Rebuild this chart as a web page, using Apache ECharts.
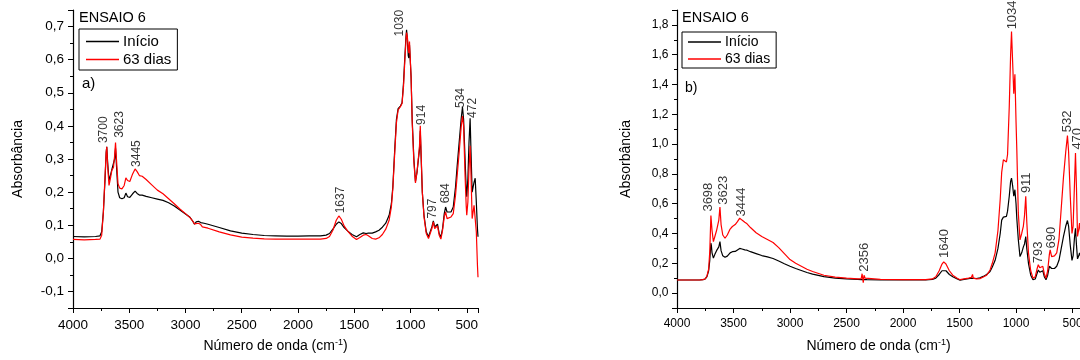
<!DOCTYPE html>
<html>
<head>
<meta charset="utf-8">
<script src="https://cdn.jsdelivr.net/npm/echarts@6/dist/echarts.min.js"></script>
<style>html,body{margin:0;padding:0;background:#fff}#c{width:1080px;height:360px}</style>
</head>
<body>
<div id="c"></div>
<script>
// ---------- Panel a) ----------
const leftWn = [4000,3900,3800,3760,3745,3730,3715,3705,3700,3692,3680,3668,3655,3640,3630,3622,3612,3600,3585,3565,3545,3530,3515,3495,3470,3448,3430,3410,3385,3350,3300,3250,3200,3150,3100,3050,3000,2960,2935,2920,2905,2885,2865,2850,2835,2800,2700,2600,2500,2400,2300,2200,2100,2000,1900,1800,1750,1720,1690,1660,1637,1615,1590,1560,1520,1480,1450,1420,1395,1385,1375,1340,1310,1280,1250,1220,1190,1170,1157,1140,1125,1110,1090,1075,1062,1050,1040,1035,1027,1020,1015,1009,1004,995,985,970,956,942,928,920,913,905,895,880,860,840,825,810,797,785,775,760,745,730,715,700,688,675,660,640,620,600,585,565,550,538,528,515,505,500,490,480,470,462,452,444,435,425,415,405,400];
const leftInicio = [.066,.065,.066,.068,.08,.14,.24,.32,.337,.29,.235,.25,.268,.272,.30,.332,.27,.20,.183,.18,.183,.197,.186,.184,.195,.203,.196,.191,.191,.187,.183,.179,.175,.168,.158,.146,.134,.124,.112,.103,.11,.112,.108,.103,.106,.103,.093,.083,.076,.072,.069,.068,.067,.067,.068,.068,.07,.075,.088,.103,.11,.105,.093,.083,.072,.065,.072,.077,.075,.075,.076,.076,.08,.085,.094,.106,.13,.165,.216,.33,.42,.452,.46,.47,.53,.61,.67,.69,.66,.612,.605,.645,.65,.55,.42,.30,.232,.26,.305,.33,.385,.30,.20,.13,.08,.065,.07,.095,.113,.095,.10,.103,.075,.064,.09,.135,.155,.14,.135,.14,.155,.215,.28,.36,.42,.457,.42,.30,.21,.186,.24,.35,.423,.32,.20,.196,.23,.242,.17,.09,.065];
const left63 = [.057,.056,.057,.058,.07,.14,.25,.32,.337,.28,.22,.24,.265,.275,.31,.35,.29,.225,.212,.21,.22,.243,.235,.232,.255,.27,.262,.25,.248,.238,.222,.206,.195,.18,.165,.149,.135,.123,.112,.104,.108,.106,.102,.095,.094,.091,.08,.071,.064,.061,.059,.058,.058,.058,.058,.058,.06,.066,.085,.115,.128,.118,.098,.083,.067,.057,.063,.07,.072,.078,.068,.06,.058,.062,.072,.088,.115,.155,.21,.32,.41,.448,.458,.468,.52,.60,.66,.682,.665,.63,.62,.655,.652,.55,.41,.29,.228,.262,.31,.34,.40,.31,.20,.125,.075,.06,.064,.09,.11,.09,.095,.098,.07,.058,.085,.125,.14,.12,.115,.125,.135,.19,.25,.33,.395,.43,.40,.25,.16,.13,.17,.27,.34,.25,.12,.115,.16,.166,.08,-.02,-.057];
const leftPeakText = ['3700','3623','3445','1637','1030','914','797','684','534','472'];
const leftPeakWn   = [3725,3582,3434,1624,1095,902,802,689,553,451];
const leftPeakY    = [.348,.364,.276,.136,.67,.403,.12,.166,.454,.424];

// ---------- Panel b) ----------
const rightWn = [4000,3900,3800,3770,3750,3735,3720,3710,3700,3696,3690,3678,3665,3650,3640,3630,3620,3610,3595,3575,3555,3530,3510,3485,3465,3445,3425,3400,3380,3350,3300,3250,3200,3150,3100,3050,3000,2950,2900,2850,2800,2700,2600,2500,2400,2370,2362,2352,2345,2335,2320,2200,2000,1800,1740,1710,1680,1655,1640,1620,1590,1560,1520,1495,1460,1420,1395,1385,1378,1350,1320,1290,1260,1230,1210,1185,1160,1140,1127,1112,1098,1085,1075,1060,1048,1040,1030,1020,1010,1000,993,980,965,950,935,925,914,905,890,870,850,830,815,803,790,775,763,750,735,720,705,698,685,675,660,640,620,600,580,560,545,535,520,505,495,482,474,465,456,445,438,425,410,400];
const rightInicio = [.088,.088,.088,.09,.095,.11,.15,.22,.335,.32,.27,.235,.26,.285,.29,.31,.345,.285,.25,.24,.248,.27,.278,.28,.29,.30,.296,.29,.288,.278,.265,.252,.243,.232,.215,.197,.18,.165,.152,.138,.127,.11,.10,.095,.092,.091,.091,.091,.091,.091,.09,.089,.088,.088,.092,.10,.125,.15,.16,.15,.125,.11,.095,.087,.092,.097,.10,.102,.10,.098,.102,.112,.125,.145,.175,.22,.30,.40,.49,.51,.51,.515,.55,.65,.75,.772,.72,.65,.694,.60,.50,.36,.245,.27,.31,.33,.38,.30,.20,.12,.09,.095,.13,.155,.14,.145,.15,.11,.09,.12,.18,.19,.165,.155,.165,.18,.22,.30,.38,.45,.487,.45,.32,.22,.25,.38,.435,.32,.23,.25,.27,.24,.18,.15];
const right63 = [.088,.088,.088,.09,.096,.115,.16,.28,.52,.525,.42,.345,.38,.42,.43,.49,.577,.46,.39,.368,.39,.43,.447,.46,.48,.503,.49,.475,.465,.44,.405,.38,.36,.34,.305,.265,.225,.20,.18,.16,.145,.12,.107,.10,.096,.097,.13,.07,.12,.10,.094,.092,.09,.09,.095,.11,.15,.195,.21,.195,.15,.12,.10,.09,.095,.10,.105,.125,.10,.095,.097,.108,.12,.155,.20,.27,.42,.63,.81,.895,.90,.88,.93,1.25,1.6,1.755,1.55,1.338,1.468,1.15,.96,.54,.357,.40,.45,.52,.65,.48,.27,.15,.10,.11,.16,.19,.17,.175,.18,.13,.10,.15,.26,.29,.245,.235,.25,.27,.36,.57,.78,.95,1.057,.95,.65,.40,.45,.75,.94,.70,.38,.43,.47,.38,.28,.25];
const rightPeakText = ['3698','3623','3444','2356','1640','1034','911','793','690','532','470'];
const rightPeakWn   = [3720,3593,3434,2345,1637,1035,909,803,684,541,456];
const rightPeakY    = [.547,.593,.514,.143,.236,1.77,.671,.20,.30,1.08,.963];

const yTicksA = {min:-0.15, max:0.75, step:0.1};
const yTicksB = {min:-0.1, max:1.9, step:0.2};
const xTicksA = {min:400, max:4000, step:500};
const xTicksB = {min:434, max:4000, step:500};   // panel b is cut by the picture's right edge

const FONT = "'Liberation Sans', Arial, sans-serif";
const zip = (a, b) => a.map((v, i) => [v, b[i]]);
const zip3 = (a, b, t) => a.map((v, i) => [v, b[i], t[i]]);
const fmt = v => v.toFixed(1).replace('.', ',');

function xAxis(gi, t, fs) {
  return {
    type: 'value', gridIndex: gi, inverse: true,
    min: t.min, max: t.max, minInterval: t.step, maxInterval: t.step,
    name: 'Número de onda (cm{sup|-1})', nameLocation: 'middle', nameGap: 30,
    nameTextStyle: {fontFamily: FONT, fontSize: 14, color: '#000',
      rich: {sup: {fontFamily: FONT, fontSize: 9, color: '#000', verticalAlign: 'top', padding: [0, 0, 8, 0]}}},
    axisLine: {show: true, onZero: false, lineStyle: {color: '#000', width: 1.2}},
    axisTick: {show: true, inside: false, length: 5, lineStyle: {color: '#000', width: 1}},
    minorTick: {show: true, splitNumber: 2, length: 3, lineStyle: {color: '#000', width: 1}},
    axisLabel: {show: true, margin: 10, fontFamily: FONT, fontSize: fs, color: '#000', showMinLabel: false,
      formatter: v => (v % 500 === 0 ? String(v) : '')},
    splitLine: {show: false}, minorSplitLine: {show: false}
  };
}
function yAxis(gi, t, fs, gap, margin) {
  return {
    type: 'value', gridIndex: gi, min: t.min, max: t.max, minInterval: t.step, maxInterval: t.step,
    name: 'Absorbância', nameLocation: 'middle', nameGap: gap,
    nameTextStyle: {fontFamily: FONT, fontSize: 14, color: '#000'},
    axisLine: {show: true, onZero: false, lineStyle: {color: '#000', width: 1.2}},
    axisTick: {show: true, inside: false, length: 5, lineStyle: {color: '#000', width: 1}},
    minorTick: {show: true, splitNumber: 2, length: 3, lineStyle: {color: '#000', width: 1}},
    axisLabel: {show: true, margin: margin, fontFamily: FONT, fontSize: fs, color: '#000',
      showMinLabel: false, showMaxLabel: false, formatter: fmt},
    splitLine: {show: false}, minorSplitLine: {show: false}
  };
}
function lineSeries(name, color, gi, wn, vals) {
  return {
    type: 'line', name: name, xAxisIndex: gi, yAxisIndex: gi, data: zip(wn, vals),
    showSymbol: false, symbol: 'none', color: color, clip: true,
    lineStyle: {color: color, width: 1.2}, silent: true, animation: false
  };
}
function labelSeries(gi, wn, ys, txt, fs) {
  return {
    type: 'scatter', xAxisIndex: gi, yAxisIndex: gi, data: zip3(wn, ys, txt),
    symbolSize: 0, silent: true, animation: false, clip: false,
    label: {show: true, position: [0, 0], rotate: 90, align: 'left', verticalAlign: 'middle',
      fontFamily: FONT, fontSize: fs, color: '#000', formatter: p => p.data[2]}
  };
}
function legend(left, top, fs, pad) {
  return {
    data: ['Início', '63 dias'], orient: 'vertical', left: left, top: top,
    icon: 'rect', itemWidth: 33, itemHeight: 1.5, itemGap: 3,
    borderColor: '#000', borderWidth: 1, padding: pad, selectedMode: false,
    textStyle: {fontFamily: FONT, fontSize: fs, color: '#000', padding: [0, 0, 0, -1]}
  };
}

const chart = echarts.init(document.getElementById('c'), null, {renderer: 'canvas'});
chart.setOption({
  animation: false,
  backgroundColor: '#fff',
  grid: [
    {left: 73, top: 10, width: 405, height: 298, containLabel: false, outerBoundsMode: 'none'},
    {left: 677, top: 10, right: 0, height: 298, containLabel: false, outerBoundsMode: 'none'}
  ],
  xAxis: [xAxis(0, xTicksA, 13.5), xAxis(1, xTicksB, 12)],
  yAxis: [yAxis(0, yTicksA, 13.5, 48, 9), yAxis(1, yTicksB, 12, 44, 8.5)],
  legend: [legend(79, 29, 15, [5, 6, 3, 7]), legend(682, 32, 14, [3, 6, 2, 6])],
  graphic: [
    {type: 'text', left: 79, top: 10, style: {text: 'ENSAIO 6', font: '14.5px ' + FONT, fill: '#000'}},
    {type: 'text', left: 82, top: 76, style: {text: 'a)', font: '15px ' + FONT, fill: '#000'}},
    {type: 'text', left: 682, top: 10, style: {text: 'ENSAIO 6', font: '14.5px ' + FONT, fill: '#000'}},
    {type: 'text', left: 685, top: 81, style: {text: 'b)', font: '14px ' + FONT, fill: '#000'}}
  ],
  series: [
    lineSeries('Início', '#000000', 0, leftWn, leftInicio),
    lineSeries('63 dias', '#ff0000', 0, leftWn, left63),
    lineSeries('Início', '#000000', 1, rightWn, rightInicio),
    lineSeries('63 dias', '#ff0000', 1, rightWn, right63),
    labelSeries(0, leftPeakWn, leftPeakY, leftPeakText, 12),
    labelSeries(1, rightPeakWn, rightPeakY, rightPeakText, 13)
  ]
});
</script>
</body>
</html>
